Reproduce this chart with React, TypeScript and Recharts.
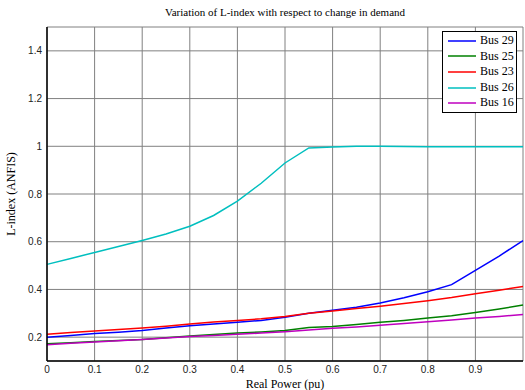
import React from 'react';
import { LineChart, Line, XAxis, YAxis, CartesianGrid, Label } from 'recharts';

// real power steps (pu)
const power = [0, 0.05, 0.1, 0.15, 0.2, 0.25, 0.3, 0.35, 0.4, 0.45, 0.5, 0.55, 0.6, 0.65, 0.7, 0.75, 0.8, 0.85, 0.9, 0.95, 1.0];

const bus29 = [0.2, 0.207, 0.215, 0.221, 0.228, 0.238, 0.248, 0.255, 0.262, 0.27, 0.283, 0.3, 0.313, 0.325, 0.343, 0.365, 0.39, 0.42, 0.48, 0.54, 0.605];
const bus25 = [0.172, 0.177, 0.182, 0.186, 0.19, 0.197, 0.205, 0.211, 0.217, 0.222, 0.228, 0.24, 0.245, 0.253, 0.262, 0.27, 0.28, 0.29, 0.303, 0.318, 0.335];
const bus23 = [0.212, 0.219, 0.226, 0.232, 0.238, 0.246, 0.255, 0.263, 0.27, 0.277, 0.287, 0.3, 0.31, 0.32, 0.33, 0.341, 0.353, 0.366, 0.382, 0.397, 0.412];
const bus26 = [0.505, 0.53, 0.555, 0.58, 0.605, 0.632, 0.665, 0.71, 0.77, 0.845, 0.93, 0.993, 0.997, 1.0, 1.0, 0.999, 0.998, 0.998, 0.998, 0.998, 0.998];
const bus16 = [0.168, 0.174, 0.18, 0.185, 0.19, 0.196, 0.203, 0.207, 0.212, 0.217, 0.223, 0.23, 0.237, 0.243, 0.25, 0.257, 0.265, 0.272, 0.28, 0.287, 0.295];

const xTicks = [0, 0.1, 0.2, 0.3, 0.4, 0.5, 0.6, 0.7, 0.8, 0.9, 1];
const yTicks = [0.2, 0.4, 0.6, 0.8, 1, 1.2, 1.4];

const series = [
  { key: 'bus29', name: 'Bus 29', color: '#0000ff' },
  { key: 'bus25', name: 'Bus 25', color: '#008000' },
  { key: 'bus23', name: 'Bus 23', color: '#ff0000' },
  { key: 'bus26', name: 'Bus 26', color: '#00bfbf' },
  { key: 'bus16', name: 'Bus 16', color: '#bf00bf' },
];

const data = power.map((p, i) => ({
  p,
  bus29: bus29[i],
  bus25: bus25[i],
  bus23: bus23[i],
  bus26: bus26[i],
  bus16: bus16[i],
}));

const serif = '"Liberation Serif", "Times New Roman", serif';
const sans = '"Liberation Sans", Arial, sans-serif';

// legend drawn on top, MATLAB-style box in the upper right corner
const LegendBox = () => (
  <div
    style={{
      position: 'absolute',
      left: 442,
      top: 31,
      width: 75,
      boxSizing: 'border-box',
      border: '1.5px solid #000',
      background: '#fff',
      padding: '1px 2px 1px 5px',
      fontFamily: serif,
      fontSize: 12,
      lineHeight: '15.6px',
      color: '#000',
    }}
  >
    {series.map((s) => (
      <div key={s.key} style={{ display: 'flex', alignItems: 'center' }}>
        <svg width={28} height={4} style={{ marginRight: 4 }}>
          <line x1={0} y1={2} x2={28} y2={2} stroke={s.color} strokeWidth={1.5} />
        </svg>
        <span>{s.name}</span>
      </div>
    ))}
  </div>
);

export default function App() {
  return (
    <div style={{ position: 'absolute', left: 0, top: 0, width: 525, height: 390, background: '#fff' }}>
      <div
        style={{
          position: 'absolute',
          top: 6,
          left: 47,
          width: 476,
          textAlign: 'center',
          fontFamily: serif,
          fontSize: 11,
          color: '#000',
        }}
      >
        Variation of L-index with respect to change in demand
      </div>
      <LineChart width={525} height={390} data={data} margin={{ top: 27, right: 2, bottom: 9, left: 7 }}>
        <CartesianGrid stroke="#808080" strokeWidth={1} />
        <XAxis
          dataKey="p"
          type="number"
          domain={[0, 1]}
          ticks={xTicks}
          tickFormatter={(v) => (v === 1 ? '' : String(v))}
          height={20}
          tickSize={0}
          tickMargin={5}
          tick={{ fill: '#222', fontSize: 10, fontFamily: sans }}
          axisLine={{ stroke: '#000', strokeWidth: 1.5 }}
        >
          <Label value="Real Power (pu)" position="insideBottom" offset={-7} style={{ fontFamily: serif, fontSize: 12, fill: '#000' }} />
        </XAxis>
        <XAxis xAxisId="top" orientation="top" dataKey="p" type="number" domain={[0, 1]} ticks={xTicks} tick={false} height={0} tickSize={0} axisLine={{ stroke: '#000', strokeWidth: 1.5 }} />
        <YAxis
          type="number"
          domain={[0.1, 1.5]}
          ticks={yTicks}
          width={40}
          tickSize={0}
          tickMargin={5}
          allowDataOverflow
          tick={{ fill: '#222', fontSize: 10, fontFamily: sans }}
          axisLine={{ stroke: '#000', strokeWidth: 1.5 }}
        >
          <Label value="L-index (ANFIS)" angle={-90} position="insideLeft" offset={4} style={{ fontFamily: serif, fontSize: 12, fill: '#000', textAnchor: 'middle' }} />
        </YAxis>
        <YAxis yAxisId="right" orientation="right" type="number" domain={[0.1, 1.5]} ticks={yTicks} tick={false} width={0} tickSize={0} axisLine={{ stroke: '#000', strokeWidth: 1.5 }} />
        {series.map((s) => (
          <Line
            key={s.key}
            type="linear"
            dataKey={s.key}
            name={s.name}
            stroke={s.color}
            strokeWidth={1.5}
            dot={false}
            isAnimationActive={false}
          />
        ))}
      </LineChart>
      <LegendBox />
    </div>
  );
}
